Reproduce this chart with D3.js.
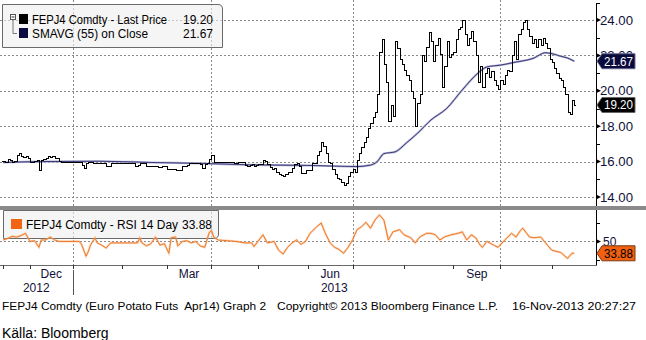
<!DOCTYPE html>
<html><head><meta charset="utf-8">
<script src="https://cdn.jsdelivr.net/npm/d3@7"></script>
<style>body{margin:0;background:#fff}svg{display:block}text{font-family:"Liberation Sans",Arial,sans-serif}</style>
</head><body><svg id="c" width="646" height="340"></svg>
<script>
// ---------- DATA ----------
const closes=[
16.05,16.00,16.15,16.10,16.00,16.05,16.40,16.50,16.30,16.25,16.30,16.20,
16.00,16.00,16.05,16.10,15.55,16.10,16.15,16.20,16.30,16.25,16.30,16.20,16.20,16.05,16.00,16.00,16.00,16.00,16.00,
16.00,16.00,16.00,15.95,15.80,15.65,15.90,15.95,15.95,15.90,15.90,15.90,15.90,15.90,15.90,15.75,15.75,15.90,15.90,15.90,15.90,15.90,
15.92,15.92,15.90,15.90,15.90,15.90,15.75,15.80,15.90,15.90,15.90,15.75,15.75,15.75,15.75,15.75,15.70,15.70,15.75,15.75,
15.60,15.60,15.60,15.60,15.50,15.50,15.50,15.75,15.75,15.80,15.90,15.90,15.90,15.90,15.90,15.85,15.65,15.85,15.90,16.15,
16.40,16.00,16.00,16.00,15.95,15.95,15.95,15.95,15.95,15.95,15.92,15.92,15.95,15.95,15.95,15.80,15.75,15.80,15.85,15.75,15.80,
15.85,15.85,16.10,16.05,15.85,15.70,15.60,15.65,15.40,15.30,15.25,15.20,15.30,15.40,15.40,15.65,15.85,15.90,15.75,15.35,15.35,15.50,
15.50,15.55,15.90,15.90,16.40,16.60,17.10,16.90,16.50,16.00,15.90,15.60,15.30,15.10,15.00,14.85,14.70,14.80,15.20,15.40,
15.60,15.40,16.10,16.50,16.80,17.10,17.40,17.90,18.20,18.50,18.80,19.80,22.20,22.90,21.50,20.50,18.30,19.20,18.60,22.80,22.40,21.80,21.50,
21.20,20.90,20.60,20.00,19.60,18.00,19.30,19.80,22.00,21.70,22.50,23.30,22.80,21.70,22.60,23.00,22.10,20.20,21.40,22.80,21.90,22.10,
22.20,22.90,23.50,23.60,24.00,23.20,22.60,23.00,23.40,22.80,22.00,20.50,21.40,20.20,21.00,21.30,20.80,21.10,20.60,20.30,20.10,
20.60,20.40,20.90,21.20,21.10,22.00,22.80,21.80,23.20,23.50,23.90,24.00,23.50,23.10,22.70,22.90,22.50,22.90,22.60,23.00,22.70,22.40,21.80,
21.60,21.30,21.00,20.70,20.60,20.20,19.80,18.80,18.70,19.50,19.20];
const holidays=["2012-12-25","2012-12-26","2013-01-01","2013-03-29","2013-04-01","2013-05-01"];
const smaIdx=[0,16,43,66,88,110,138,158,164,167,170,175,180,185,191,198,205,212,216,222,228,237,242,245,249,252,255];
const smaVal=[15.95,16.00,16.02,15.95,15.90,15.82,15.78,15.72,15.80,16.00,16.45,16.55,17.05,17.60,18.35,19.00,20.05,21.00,21.35,21.45,21.60,21.85,22.15,22.10,21.95,21.85,21.67];
const rsiIdx=[0,2,4,6,8,10,12,14,16,17,19,21,23,25,28,31,34,35,37,38,39,41,42,44,46,48,50,55,60,61,62,64,66,68,70,72,74,75,77,78,80,82,84,86,88,90,92,93,94,96,100,104,108,111,112,116,118,121,123,125,127,129,131,133,135,137,140,142,144,146,148,150,152,154,156,158,160,162,164,166,168,170,172,174,177,179,182,184,186,189,191,193,195,197,200,203,205,207,209,211,213,214,216,219,221,224,227,229,231,232,235,237,240,243,245,249,252,254,255];
const rsiVal=[52,54,57,56,58,61,50,51,42,52,52,56,52,50,50,50,50,46,30,36,45,55,48,45,41,48,48,48,48,55,48,44,47,56,45,47,34,55,56,44,50,51,48,50,44,42,62,65,56,52,51,50,48,48,43,59,48,50,38,33,42,48,52,46,50,61,70,75,60,48,42,39,34,42,52,66,70,76,68,79,86,79,52,63,66,59,55,48,56,61,61,59,52,56,59,61,63,52,59,55,45,42,50,45,42,52,61,56,65,68,56,55,56,45,38,35,27,34,33.88];
const priceTicks=[14,16,18,20,22,24], priceMinor=[15,17,19,21,23];
const rsiTicks=[50], rsiMinor=[25,75];
const monthLabels=[["2012-12","Dec"],["2013-03","Mar"],["2013-06","Jun"],["2013-09","Sep"]];
const gridMonths=["2013-01","2013-04","2013-07","2013-10"];
const yearLabels=["2012","2013"];
const legPrice="FEPJ4 Comdty - Last Price", lastPrice="19.20";
const legSma="SMAVG (55) on Close", lastSma="21.67";
const legRsi="FEPJ4 Comdty - RSI 14 Day", lastRsi="33.88";
const footer=["FEPJ4 Comdty (Euro Potato Futs  Apr14) Graph 2","Copyright\u00A9 2013 Bloomberg Finance L.P.","16-Nov-2013 20:27:27"];
const source="Källa: Bloomberg";

// ---------- SETUP ----------
const svg=d3.select("#c");
const fmt=d3.timeFormat("%Y-%m-%d"), fmM=d3.timeFormat("%Y-%m");
const days=d3.timeDay.range(new Date(2012,10,15),new Date(2013,11,10))
  .filter(d=>d.getDay()%6!==0 && !holidays.includes(fmt(d)));
const AX=596;
const x=d3.scaleLinear().domain([-1.4,264.7]).range([0,AX]);
const yP=d3.scaleLinear().domain([14,24]).range([197,20]);
const yR=d3.scaleLinear().domain([18,90]).range([265,212]);
const monthStart={};
days.forEach((d,i)=>{const k=fmM(d); if(!(k in monthStart)) monthStart[k]=i;});
const px=v=>Math.round(v)+0.5;

const g=svg.append("g");
// gridlines
const grid=g.append("g").attr("stroke","#8a8a8a").attr("stroke-dasharray","2,2").attr("stroke-width",1);
priceTicks.forEach(t=>grid.append("line").attr("x1",0).attr("x2",AX).attr("y1",px(yP(t))).attr("y2",px(yP(t))));
rsiTicks.forEach(t=>grid.append("line").attr("x1",0).attr("x2",AX).attr("y1",px(yR(t))).attr("y2",px(yR(t))));
gridMonths.forEach(m=>{const xx=px(x(monthStart[m])); grid.append("line").attr("x1",xx).attr("x2",xx).attr("y1",0).attr("y2",265);});

// legends
const lg=g.append("g");
lg.append("path").attr("d","M2.5,4.5H218Q222.5,4.5 222.5,9V47.5H2.5Z").attr("fill","#eeeeee").attr("fill-opacity",0.6).attr("stroke","#6a6a6a");
lg.append("rect").attr("x",10.5).attr("y",14.5).attr("width",5).attr("height",5).attr("fill","#fff").attr("stroke","#555");
lg.append("line").attr("x1",11.5).attr("x2",14.5).attr("y1",17).attr("y2",17).attr("stroke","#333");
lg.append("path").attr("d","M13,19.5V33.5H17").attr("fill","none").attr("stroke","#777");
lg.append("rect").attr("x",19).attr("y",14).attr("width",9).attr("height",10).attr("fill","#000");
lg.append("rect").attr("x",19).attr("y",28).attr("width",9).attr("height",10).attr("fill","#0a0a40");
lg.append("text").attr("x",32).attr("y",23.5).attr("font-size",12).attr("textLength",135).attr("lengthAdjust","spacingAndGlyphs").text(legPrice);
lg.append("text").attr("x",213).attr("y",23.5).attr("font-size",12).attr("text-anchor","end").text(lastPrice);
lg.append("text").attr("x",32).attr("y",37.5).attr("font-size",12).attr("textLength",116).attr("lengthAdjust","spacingAndGlyphs").text(legSma);
lg.append("text").attr("x",213).attr("y",37.5).attr("font-size",12).attr("text-anchor","end").text(lastSma);

lg.append("path").attr("d","M3.5,210.5H218.5V234Q218.5,238.5 214,238.5H3.5Z").attr("fill","#eeeeee").attr("fill-opacity",0.6).attr("stroke","#6a6a6a");
lg.append("rect").attr("x",11).attr("y",219).attr("width",11).attr("height",10).attr("fill","#f06414");
lg.append("text").attr("x",26).attr("y",229).attr("font-size",12).attr("textLength",152).attr("lengthAdjust","spacingAndGlyphs").text(legRsi);
lg.append("text").attr("x",212).attr("y",229).attr("font-size",12).attr("text-anchor","end").text(lastRsi);

// SMA line
const smaPts=smaIdx.map((d,i)=>[x(d),yP(smaVal[i])]);
const ln=d3.line().curve(d3.curveMonotoneX);
g.append("path").attr("d",ln(smaPts)).attr("fill","none").attr("stroke","#b2b2d6").attr("stroke-width",2.2);
g.append("path").attr("d",ln(smaPts)).attr("fill","none").attr("stroke","#2c2c6c").attr("stroke-width",0.9);

// price bars
let p="";
closes.forEach((c,i)=>{
  const o=i?closes[i-1]:c, xx=px(x(i)), yo=px(yP(o)), yc=px(yP(c));
  p+=`M${xx},${Math.min(yo,yc)-0.5}V${Math.max(yo,yc)+0.5}M${xx-1.5},${yo}H${xx}M${xx},${yc}H${xx+1.5}`;
});
g.append("path").attr("d",p).attr("fill","none").attr("stroke","#000").attr("stroke-width",1).attr("shape-rendering","crispEdges");

// RSI line
const rsiPts=rsiIdx.map((d,i)=>[x(d),yR(rsiVal[i])]);
const ll=d3.line();
g.append("path").attr("d",ll(rsiPts)).attr("fill","none").attr("stroke","#f7b07a").attr("stroke-width",2.2).attr("stroke-opacity",0.55);
g.append("path").attr("d",ll(rsiPts)).attr("fill","none").attr("stroke","#ee7a2c").attr("stroke-width",1);

// separator band
g.append("rect").attr("x",0).attr("y",206).attr("width",646).attr("height",4).attr("fill","#8a8a8a");

// right axes
const ax=g.append("g").attr("shape-rendering","crispEdges");
ax.append("line").attr("x1",AX+0.5).attr("x2",AX+0.5).attr("y1",3).attr("y2",206).attr("stroke","#000");
ax.append("line").attr("x1",AX+0.5).attr("x2",AX+0.5).attr("y1",210).attr("y2",265.5).attr("stroke","#000");
ax.append("line").attr("x1",AX+0.5).attr("x2",AX+4).attr("y1",3.5).attr("y2",3.5).attr("stroke","#000");
priceMinor.forEach(t=>ax.append("line").attr("x1",AX).attr("x2",AX+4).attr("y1",px(yP(t))).attr("y2",px(yP(t))).attr("stroke","#000"));
rsiMinor.forEach(t=>ax.append("line").attr("x1",AX).attr("x2",AX+4).attr("y1",px(yR(t))).attr("y2",px(yR(t))).attr("stroke","#000"));
const lab=g.append("g").attr("font-size",12).attr("fill","#101038");
priceTicks.forEach(t=>{const yy=yP(t);
  g.append("path").attr("d",`M${AX},${yy-2.5}L${AX+5},${yy}L${AX},${yy+2.5}Z`).attr("fill","#000");
  lab.append("text").attr("x",600).attr("y",yy+4.5).attr("textLength",33).attr("lengthAdjust","spacingAndGlyphs").text(t.toFixed(2));});
rsiTicks.forEach(t=>{const yy=yR(t);
  g.append("path").attr("d",`M${AX},${yy-2.5}L${AX+5},${yy}L${AX},${yy+2.5}Z`).attr("fill","#000");
  lab.append("text").attr("x",603).attr("y",yy+4.5).text(String(t));});

// value tags
function tag(yy,fill,txtFill,txt,stroke){
  g.append("path").attr("d",`M597,${yy}L602,${yy-7.5}H635V${yy+7.5}H602Z`).attr("fill",fill).attr("stroke",stroke).attr("stroke-width",1);
  g.append("text").attr("x",604).attr("y",yy+4.5).attr("font-size",12).attr("fill",txtFill).attr("textLength",29).attr("lengthAdjust","spacingAndGlyphs").text(txt);
}
tag(yP(smaVal[smaVal.length-1]),"#0a0a3c","#fff",lastSma,"#6a6a90");
tag(yP(closes[closes.length-1]),"#000","#fff",lastPrice,"#666");
tag(yR(rsiVal[rsiVal.length-1]),"#f06010","#000",lastRsi,"#7a3a10");

// bottom axis
const bx=g.append("g").attr("shape-rendering","crispEdges");
bx.append("line").attr("x1",0).attr("x2",AX+1).attr("y1",265.5).attr("y2",265.5).attr("stroke","#6a6a6a");
Object.keys(monthStart).forEach(k=>{const xv=x(monthStart[k]); if(xv>2&&xv<AX-2) bx.append("line").attr("x1",px(xv)).attr("x2",px(xv)).attr("y1",265).attr("y2",269).attr("stroke","#333");});
const blab=g.append("g").attr("font-size",12).attr("fill","#101038").attr("text-anchor","middle");
monthLabels.forEach(([m,t])=>{
  const [yy,mm]=m.split("-").map(Number); const nk=fmM(new Date(yy,mm,1));
  const cx=(x(monthStart[m])+x(monthStart[nk]))/2;
  blab.append("text").attr("x",cx).attr("y",277.5).text(t);});
const janX=x(monthStart["2013-01"]);
bx.append("line").attr("x1",px(janX)).attr("x2",px(janX)).attr("y1",270).attr("y2",295).attr("stroke","#555");
blab.append("text").attr("x",janX/2).attr("y",292).text(yearLabels[0]);
blab.append("text").attr("x",(janX+AX)/2).attr("y",292).text(yearLabels[1]);

// footer
const ft=g.append("g").attr("font-size",11).attr("fill","#000");
ft.append("text").attr("x",2).attr("y",309.5).attr("textLength",264).attr("lengthAdjust","spacingAndGlyphs").attr("xml:space","preserve").text(footer[0]);
ft.append("text").attr("x",277).attr("y",309.5).attr("textLength",221).attr("lengthAdjust","spacingAndGlyphs").text(footer[1]);
ft.append("text").attr("x",512).attr("y",309.5).attr("textLength",124).attr("lengthAdjust","spacingAndGlyphs").text(footer[2]);
g.append("text").attr("x",2).attr("y",338).attr("font-size",14).attr("fill","#000").text(source);
</script></body></html>
